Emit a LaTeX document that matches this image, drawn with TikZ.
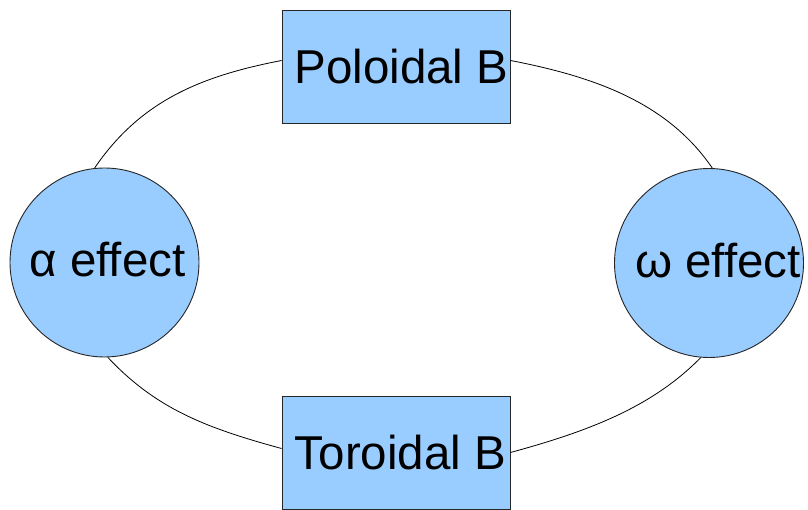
\documentclass[tikz,border=0pt]{standalone}
\usepackage{fontspec}
\setmainfont{Liberation Sans}
\definecolor{boxblue}{RGB}{153,204,255}
\begin{document}
\begin{tikzpicture}[x=1pt,y=-1pt,
  field/.style={draw=black!85,line width=0.9pt,fill=boxblue,rectangle,minimum width=228pt,minimum height=113pt,inner sep=0pt,
    font=\fontsize{47.5}{57}\selectfont},
  effect/.style={draw=black!85,line width=0.9pt,fill=boxblue,circle,minimum size=189pt,inner sep=0pt,
    font=\fontsize{47.5}{57}\selectfont},
  link/.style={draw=black,line width=0.8pt}]
\useasboundingbox (0,0) rectangle (808,510);
\node[field] (pol) at (396,66.5) {\hspace*{11pt}\raisebox{-2.5pt}{Poloidal B}};
\node[field] (tor) at (396,452.5) {\hspace*{9pt}\raisebox{-2pt}{Toroidal B}};
\node[effect] (alpha) at (104.5,262.5) {\hspace*{6pt}\raisebox{6pt}{α effect}};
\node[effect] (omega) at (709,263) {\hspace*{18pt}\raisebox{6pt}{ω effect}};
\draw[link] (alpha.96) .. controls +(45,-66) and +(-83,16) .. (pol.177.2);
\draw[link] (pol.3.8) .. controls +(83,16) and +(-45,-66) .. (omega.88);
\draw[link] (alpha.-88) .. controls +(48,51) and +(-77,-21) .. (tor.178.7);
\draw[link] (tor.0) .. controls +(77,-21) and +(-49,50) .. (omega.-95);
\end{tikzpicture}
\end{document}
